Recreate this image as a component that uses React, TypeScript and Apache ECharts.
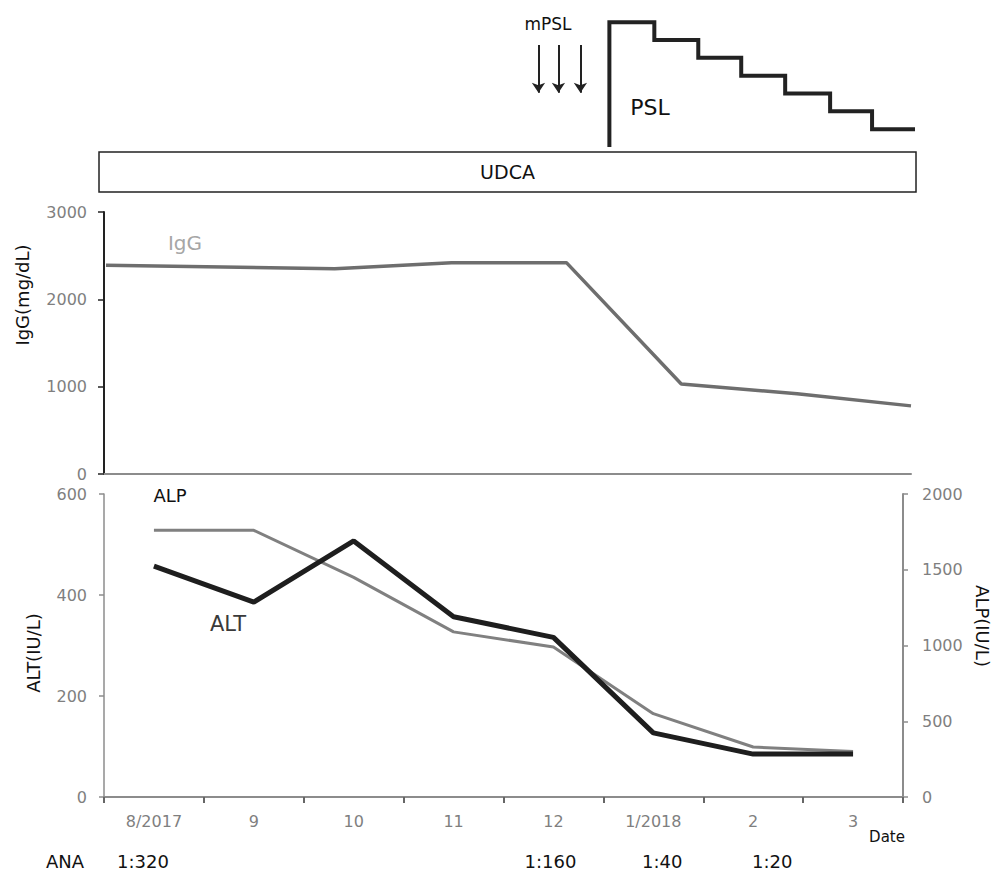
import React, { useEffect, useRef } from 'react';
import * as echarts from 'echarts';

// ---- data ----
const months = ['8/2017', '9', '10', '11', '12', '1/2018', '2', '3'];
const altValues = [457, 386, 507, 357, 316, 127, 85, 85];
const alpValues = [1760, 1760, 1450, 1090, 990, 550, 330, 300];

// IgG measured at dates expressed in months from start of Aug 2017
const iggMonth = [0.02, 2.31, 3.48, 4.63, 5.78, 6.94, 8.08];
const iggValues = [2390, 2350, 2420, 2420, 1030, 920, 780];

// PSL taper (mg) — change points in months
const pslMonth = [5.06, 5.06, 5.51, 5.95, 6.38, 6.82, 7.27, 7.69, 8.12];
const pslDose = [0, 35, 30, 25, 20, 15, 10, 5, 5];

// mPSL pulses
const mpslMonth = [4.35, 4.55, 4.77];
const mpslFrom = 28.6;
const mpslTo = 15.2;

// UDCA period
const udcaPeriod = [-0.05, 8.13];

// ANA titres
const anaMonth = [0.39, 4.47, 5.59, 6.69];
const anaTiter = ['1:320', '1:160', '1:40', '1:20'];

const FONT = 'DejaVu Sans';
const TICK_COLOR = '#7f7f7f';
const AXIS_GRAY = '#8c8c8c';

const PLOT_LEFT = 104;
const MONTH_PX = 99.875;

export default function App() {
  const ref = useRef<HTMLDivElement>(null);

  useEffect(() => {
    if (!ref.current) return;
    const chart = echarts.init(ref.current, undefined, { renderer: 'svg' });

    const tickLabel = { color: TICK_COLOR, fontSize: 16, fontFamily: FONT, formatter: (v: any) => String(v) };

    const txt = (text: string, x: number, y: number, fontSize: number, fill = '#111', rotation = 0) => ({
      type: 'text',
      x,
      y,
      rotation,
      silent: true,
      style: { text, fontSize, fontFamily: FONT, fill, align: 'center', verticalAlign: 'middle' },
    });

    const option: any = {
      animation: false,
      backgroundColor: '#fff',
      grid: [
        { left: PLOT_LEFT, top: 15, width: 819, height: 132 },
        { left: PLOT_LEFT, top: 152, width: 819, height: 40 },
        { left: PLOT_LEFT, top: 212, width: 807, height: 262 },
        { left: PLOT_LEFT, top: 494, width: 799, height: 303 },
      ],
      xAxis: [
        { gridIndex: 0, type: 'value', min: 0, max: 8.2, show: false },
        { gridIndex: 1, type: 'value', min: 0, max: 8.2, show: false },
        {
          gridIndex: 2, type: 'value', min: 0, max: 8.08,
          axisLine: { show: true, lineStyle: { color: AXIS_GRAY, width: 2 } },
          axisTick: { show: false }, axisLabel: { show: false }, splitLine: { show: false },
        },
        {
          gridIndex: 3, type: 'category', data: months, boundaryGap: true,
          axisLine: { show: true, lineStyle: { color: AXIS_GRAY, width: 2 } },
          axisTick: { show: true, length: 6, lineStyle: { color: '#666', width: 2 } },
          axisLabel: { color: TICK_COLOR, fontSize: 16, fontFamily: FONT, margin: 16 },
          splitLine: { show: false },
        },
      ],
      yAxis: [
        { gridIndex: 0, type: 'value', min: 0, max: 37, show: false },
        { gridIndex: 1, type: 'value', min: 0, max: 1, show: false },
        {
          gridIndex: 2, type: 'value', min: 0, max: 3000, interval: 1000,
          axisLine: { show: true, lineStyle: { color: '#222', width: 2 } },
          axisTick: { show: true, length: 6, lineStyle: { color: '#222', width: 1.5 } },
          axisLabel: { ...tickLabel, margin: 17 },
          splitLine: { show: false },
        },
        {
          gridIndex: 3, type: 'value', min: 0, max: 600, interval: 200, position: 'left',
          axisLine: { show: true, lineStyle: { color: AXIS_GRAY, width: 1.5 } },
          axisTick: { show: true, length: 5, lineStyle: { color: AXIS_GRAY, width: 1.5 } },
          axisLabel: { ...tickLabel, margin: 17 },
          splitLine: { show: false },
        },
        {
          gridIndex: 3, type: 'value', min: 0, max: 2000, interval: 500, position: 'right',
          axisLine: { show: true, lineStyle: { color: AXIS_GRAY, width: 2 } },
          axisTick: { show: true, length: 5, lineStyle: { color: AXIS_GRAY, width: 1.5 } },
          axisLabel: { ...tickLabel, margin: 19 },
          splitLine: { show: false },
        },
      ],
      series: [
        {
          name: 'PSL', type: 'line', xAxisIndex: 0, yAxisIndex: 0,
          data: pslMonth.map((m, i) => [m, pslDose[i]]),
          step: 'end', symbol: 'none', clip: false,
          lineStyle: { color: '#222', width: 4, join: 'miter', cap: 'butt' },
        },
        {
          name: 'mPSL', type: 'lines', coordinateSystem: 'cartesian2d', xAxisIndex: 0, yAxisIndex: 0,
          symbol: ['none', 'arrow'], symbolSize: 10,
          lineStyle: { color: '#222', width: 2, opacity: 1, curveness: 0 },
          data: mpslMonth.map((m) => ({ coords: [[m, mpslFrom], [m, mpslTo]] })),
        },
        {
          name: 'UDCA', type: 'custom', xAxisIndex: 1, yAxisIndex: 1, clip: false,
          data: [udcaPeriod],
          renderItem: (params: any, api: any) => {
            const p0 = api.coord([api.value(0), 1]);
            const p1 = api.coord([api.value(1), 0]);
            return {
              type: 'group',
              children: [
                {
                  type: 'rect',
                  shape: { x: p0[0], y: p0[1], width: p1[0] - p0[0], height: p1[1] - p0[1] },
                  style: { fill: '#fff', stroke: '#222', lineWidth: 1.5 },
                },
                {
                  type: 'text',
                  x: (p0[0] + p1[0]) / 2,
                  y: (p0[1] + p1[1]) / 2,
                  style: { text: 'UDCA', fontSize: 19, fontFamily: FONT, fill: '#111', align: 'center', verticalAlign: 'middle' },
                },
              ],
            };
          },
        },
        {
          name: 'IgG', type: 'line', xAxisIndex: 2, yAxisIndex: 2,
          data: iggMonth.map((m, i) => [m, iggValues[i]]),
          symbol: 'none', clip: false,
          lineStyle: { color: '#6e6e6e', width: 3.5 },
        },
        {
          name: 'ALP', type: 'line', xAxisIndex: 3, yAxisIndex: 4,
          data: alpValues, symbol: 'none',
          lineStyle: { color: '#808080', width: 3 },
        },
        {
          name: 'ALT', type: 'line', xAxisIndex: 3, yAxisIndex: 3,
          data: altValues, symbol: 'none',
          lineStyle: { color: '#1e1e1e', width: 5 },
        },
      ],
      graphic: [
        txt('mPSL', 548, 24, 17),
        txt('PSL', 650, 107, 22),
        txt('IgG', 185, 243, 20, '#a6a6a6'),
        txt('IgG(mg/dL)', 22, 295, 18, '#111', Math.PI / 2),
        txt('ALP', 170, 495, 18),
        txt('ALT', 228, 624, 21, '#3a3a3a'),
        txt('ALT(IU/L)', 33, 653, 18, '#111', Math.PI / 2),
        txt('ALP(IU/L)', 982, 626, 18, '#111', -Math.PI / 2),
        txt('Date', 887, 837, 15),
        txt('ANA', 65, 861, 18),
        ...anaTiter.map((t, i) => txt(t, PLOT_LEFT + anaMonth[i] * MONTH_PX, 861, 18)),
      ],
    };

    chart.setOption(option);
    return () => chart.dispose();
  }, []);

  return (
    <div
      ref={ref}
      style={{ position: 'fixed', left: 0, top: 0, width: 993, height: 872, background: '#fff' }}
    />
  );
}
